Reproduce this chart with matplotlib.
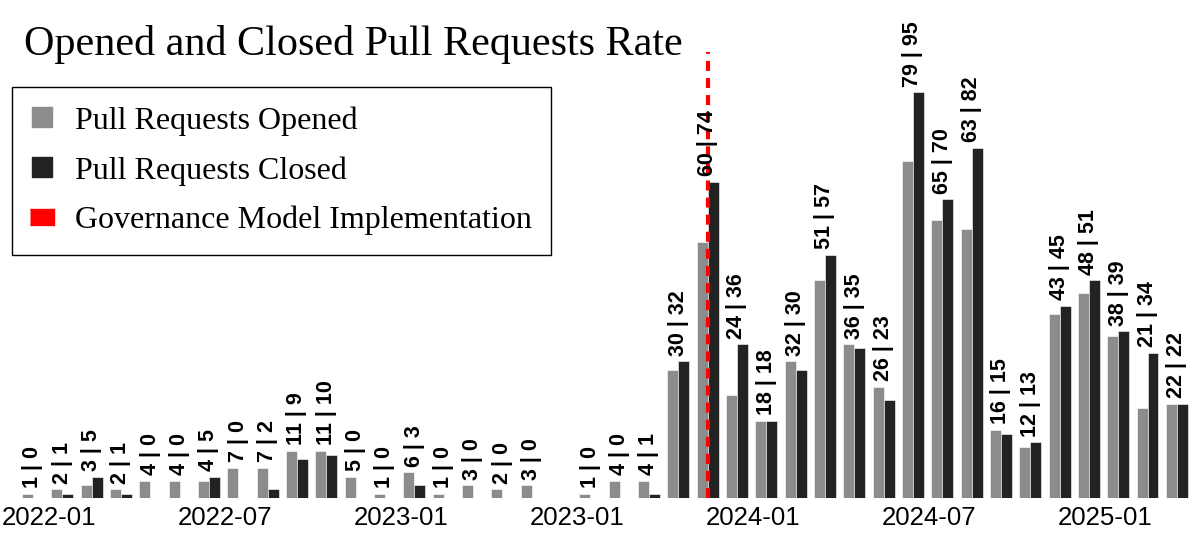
import numpy as np
import matplotlib.pyplot as plt
from matplotlib.lines import Line2D

# monthly pull request counts, 2022-01 .. 2025-04 (2023-07 had no activity)
months = ['2022-01', '2022-02', '2022-03', '2022-04', '2022-05', '2022-06',
          '2022-07', '2022-08', '2022-09', '2022-10', '2022-11', '2022-12',
          '2023-01', '2023-02', '2023-03', '2023-04', '2023-05', '2023-06',
          '2023-07', '2023-08', '2023-09', '2023-10', '2023-11', '2023-12',
          '2024-01', '2024-02', '2024-03', '2024-04', '2024-05', '2024-06',
          '2024-07', '2024-08', '2024-09', '2024-10', '2024-11', '2024-12',
          '2025-01', '2025-02', '2025-03', '2025-04']
opened = [1, 2, 3, 2, 4, 4, 4, 7, 7, 11, 11, 5,
          1, 6, 1, 3, 2, 3, None, 1, 4, 4, 30, 60,
          24, 18, 32, 51, 36, 26, 79, 65, 63, 16, 12, 43,
          48, 38, 21, 22]
closed = [0, 1, 5, 1, 0, 0, 5, 0, 2, 9, 10, 0,
          0, 3, 0, 0, 0, 0, None, 0, 0, 1, 32, 74,
          36, 18, 30, 57, 35, 23, 95, 70, 82, 15, 13, 45,
          51, 39, 34, 22]

# tick labels as printed on the original figure
tick_idx = [0, 6, 12, 18, 24, 30, 36]
tick_labels = ['2022-01', '2022-07', '2023-01', '2023-01', '2024-01', '2024-07', '2025-01']

governance_month = '2023-12'

OpenColor = '#8c8c8c'
ClosedColor = '#222222'
w = 0.375

fig = plt.figure(figsize=(12, 5.4), dpi=100)
ax = fig.add_axes([0, 0.078, 1, 0.826])

x = np.arange(len(months))
for i in x:
    if opened[i] is None:
        continue
    ax.bar(i - w / 2, opened[i], w, color=OpenColor, edgecolor='white', linewidth=0.4)
    ax.bar(i + w / 2, closed[i], w, color=ClosedColor, edgecolor='white', linewidth=0.4)
    ax.annotate(f'{opened[i]} | {closed[i]}', (i, max(opened[i], closed[i])),
                xytext=(0, 4), textcoords='offset points', rotation=90,
                ha='center', va='bottom', fontsize=15.5, fontweight='bold',
                family='Liberation Sans')

ax.axvline(months.index(governance_month), color='red', linewidth=3,
           linestyle=(0, (2.4, 1.7)))

ax.set_xlim(-1.125, 39.79)
ax.set_ylim(0, max(closed[i] for i in x if closed[i] is not None) * 1.1)
for s in ax.spines.values():
    s.set_visible(False)
ax.set_yticks([])
ax.set_xticks([t + 0.55 for t in tick_idx])
ax.set_xticklabels(tick_labels, fontsize=18.6, family='Liberation Sans')
ax.tick_params(axis='x', length=0, pad=6)

fig.text(0.02, 0.898, 'Opened and Closed Pull Requests Rate', fontsize=30.3,
         family='Liberation Serif', va='baseline')

rect = [(-1.5, -1), (1.5, -1), (1.5, 1), (-1.5, 1)]
handles = [Line2D([], [], marker='s', linestyle='none', markersize=14.4, color=OpenColor),
           Line2D([], [], marker='s', linestyle='none', markersize=14.4, color=ClosedColor),
           Line2D([], [], marker=rect, linestyle='none', markersize=17, color='red')]
leg = fig.legend(handles, ['Pull Requests Opened', 'Pull Requests Closed',
                           'Governance Model Implementation'],
                 loc='upper left', bbox_to_anchor=(0.01, 0.839), borderaxespad=0,
                 fancybox=False, edgecolor='black', framealpha=1,
                 labelspacing=0.64, handlelength=0.7, handletextpad=0.68,
                 borderpad=0.6, prop={'family': 'Liberation Serif', 'size': 23})
leg.get_frame().set_linewidth(1)

plt.savefig('out.png')
